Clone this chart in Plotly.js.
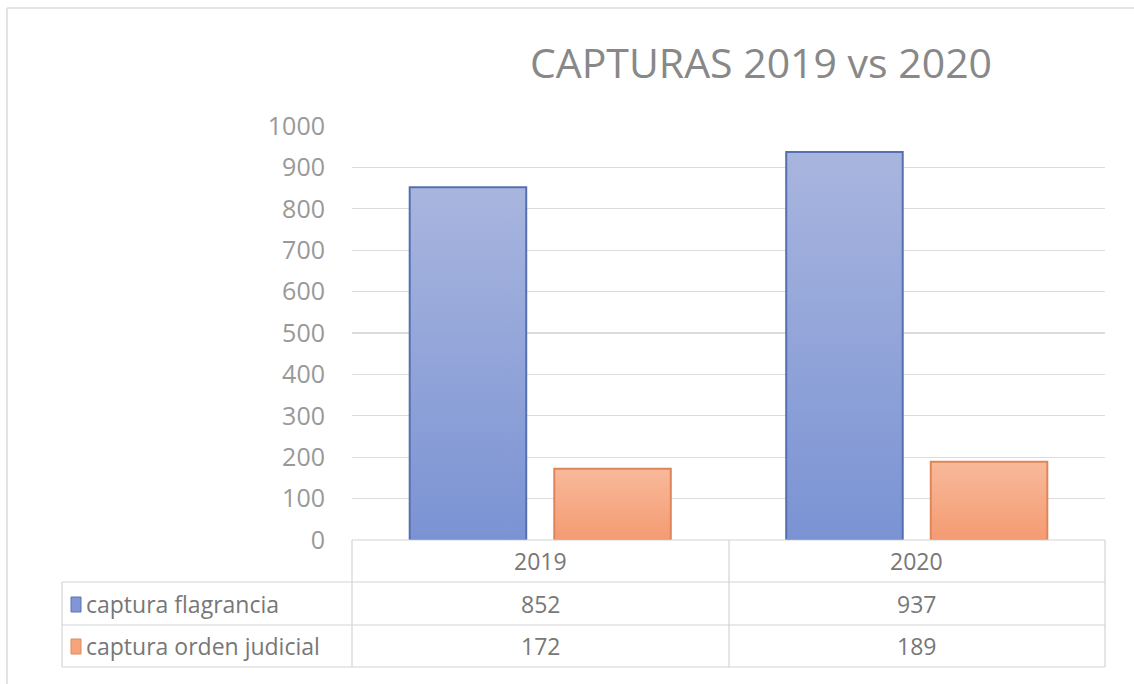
<!DOCTYPE html>
<html>
<head>
<meta charset="utf-8">
<script src="https://cdn.plot.ly/plotly-3.0.1.min.js"></script>
<style>html,body{margin:0;padding:0;background:#fff;}#chart{width:1134px;height:684px;}</style>
</head>
<body>
<div id="chart"></div>
<script>
const titleText = "CAPTURAS 2019 vs 2020";
const categories = ["2019", "2020"];
const seriesNames = ["captura flagrancia", "captura orden judicial"];
const flagrancia = [852, 937];
const ordenJudicial = [172, 189];
const yTicks = [0, 100, 200, 300, 400, 500, 600, 700, 800, 900, 1000];

const W = 1134, H = 684;
const L = 352, R = 1105, T = 126, B = 540;
const px = v => (v - L) / (R - L);
const py = v => (B - v) / (B - T);

const FONT = "Open Sans, sans-serif";
const TXT = "#777777";
const LINE = "#d4d4d4";
const TS = 23;

const traces = [
  {type: "bar", name: seriesNames[0], x: categories, y: flagrancia,
   marker: {color: "#8fa2d8", line: {color: "#5570b0", width: 2}}, hoverinfo: "x+y+name"},
  {type: "bar", name: seriesNames[1], x: categories, y: ordenJudicial,
   marker: {color: "#f6ab86", line: {color: "#e0855a", width: 2}}, hoverinfo: "x+y+name"}
];

const rowY = [py(561), py(604), py(646)];
const annotations = [];
categories.forEach((c, i) => {
  const rows = [c, String(flagrancia[i]), String(ordenJudicial[i])];
  rows.forEach((t, r) => {
    annotations.push({xref: "x", yref: "paper", x: i, y: rowY[r], text: t, showarrow: false,
      font: {family: FONT, size: TS, color: TXT}, xanchor: "center", yanchor: "middle"});
  });
});
seriesNames.forEach((n, i) => {
  annotations.push({xref: "paper", yref: "paper", x: px(84), y: rowY[i + 1], text: n, showarrow: false,
    font: {family: FONT, size: TS, color: TXT}, xanchor: "left", yanchor: "middle"});
});

const hl = (x0, x1, y) => ({type: "line", xref: "paper", yref: "paper", x0: px(x0), x1: px(x1), y0: py(y), y1: py(y), line: {color: LINE, width: 1.2}});
const vl = (x, y0, y1) => ({type: "line", xref: "paper", yref: "paper", x0: px(x), x1: px(x), y0: py(y0), y1: py(y1), line: {color: LINE, width: 1.2}});
const shapes = [
  hl(352, 1105, 540), hl(62, 1105, 582), hl(62, 1105, 625), hl(62, 1105, 667),
  vl(62, 582, 667), vl(352, 540, 667), vl(729, 540, 667), vl(1105, 540, 667),
  {type: "rect", xref: "paper", yref: "paper", x0: px(71), x1: px(81), y0: py(597), y1: py(612), fillcolor: "#8096d6", line: {color: "#5a72b4", width: 1}},
  {type: "rect", xref: "paper", yref: "paper", x0: px(71), x1: px(81), y0: py(639), y1: py(654), fillcolor: "#f6a47c", line: {color: "#e08a60", width: 1}},
  {type: "line", xref: "paper", yref: "paper", x0: px(7), x1: px(1134), y0: py(8), y1: py(8), line: {color: "#e4e4e4", width: 2}},
  {type: "line", xref: "paper", yref: "paper", x0: px(7), x1: px(7), y0: py(8), y1: py(684), line: {color: "#e4e4e4", width: 2}}
];

const layout = {
  width: W, height: H,
  margin: {l: L, r: W - R, t: T, b: H - B, pad: 0},
  paper_bgcolor: "#ffffff", plot_bgcolor: "#ffffff",
  title: {text: titleText, x: 761 / W, xanchor: "center", y: 1 - 64 / H, yanchor: "middle",
    font: {family: FONT, size: 41, color: "#888888"}},
  showlegend: false,
  barmode: "group", bargap: 0.232, bargroupgap: 0.194,
  xaxis: {type: "category", range: [-0.5, 1.5], showticklabels: false, showgrid: false, zeroline: false, showline: false, ticks: "", fixedrange: true},
  yaxis: {range: [0, 1000], tickvals: yTicks, ticktext: yTicks.map(String), showgrid: true, gridcolor: "#dcdcdc", gridwidth: 1.2,
    zeroline: false, showline: false, ticks: "", ticklabelstandoff: 26,
    tickfont: {family: FONT, size: 25, color: "#999999"}, fixedrange: true},
  annotations: annotations, shapes: shapes
};

Plotly.newPlot("chart", traces, layout, {staticPlot: true, displayModeBar: false}).then(gd => {
  const svg = gd.querySelector("svg.main-svg");
  const ns = "http://www.w3.org/2000/svg";
  let defs = svg.querySelector("defs");
  if (!defs) { defs = document.createElementNS(ns, "defs"); svg.insertBefore(defs, svg.firstChild); }
  const mk = (id, c1, c2) => {
    const g = document.createElementNS(ns, "linearGradient");
    g.setAttribute("id", id); g.setAttribute("x1", "0"); g.setAttribute("y1", "0"); g.setAttribute("x2", "0"); g.setAttribute("y2", "1");
    [[0, c1], [1, c2]].forEach(([o, c]) => { const s = document.createElementNS(ns, "stop"); s.setAttribute("offset", o); s.setAttribute("stop-color", c); g.appendChild(s); });
    defs.appendChild(g);
  };
  mk("gradBlue", "#a8b5de", "#7b93d4");
  mk("gradOrange", "#f8b99a", "#f49b72");
  const groups = gd.querySelectorAll(".barlayer .trace");
  const ids = ["gradBlue", "gradOrange"];
  groups.forEach((g, i) => g.querySelectorAll("path").forEach(p => { p.style.fill = "url(#" + ids[i] + ")"; }));
});
</script>
</body>
</html>
